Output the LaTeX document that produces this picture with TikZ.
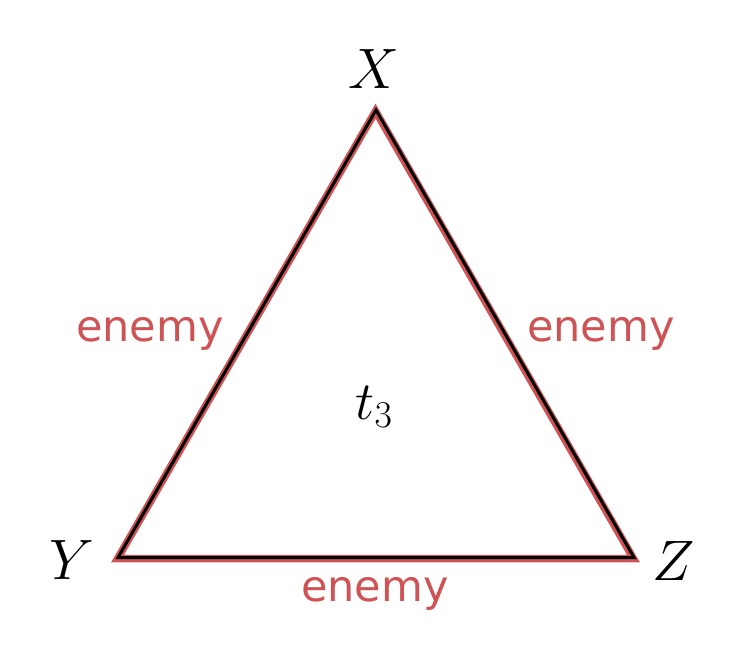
\RequirePackage{fix-cm}
\documentclass[tikz,border=0pt]{standalone}
\usepackage{fontspec}
\newfontfamily\labelfont{DejaVu Sans}
\definecolor{enemyred}{RGB}{207,83,84}
\begin{document}
\begin{tikzpicture}[x=1pt,y=-1pt,
  vlabel/.style={anchor=base,inner sep=0pt,font=\fontsize{57}{60}\selectfont},
  rel/.style={anchor=base,inner sep=0pt,text=enemyred,font=\labelfont\fontsize{43}{48}\selectfont},
  redline/.style={draw=enemyred,line width=7.5pt,line join=miter},
  blackline/.style={draw=black,line width=3pt,line join=miter}]
\useasboundingbox (0,0) rectangle (749,666);
\coordinate (x) at (376,110);
\coordinate (y) at (118,557.5);
\coordinate (z) at (634,557.5);
\begin{scope}[transform canvas={shift={(-0.5pt,-1.2pt)}}]
\draw[redline] (x) -- (y) -- (z) -- cycle;
\end{scope}
\draw[blackline] (x) -- (y) -- (z) -- cycle;
\node[vlabel] (lx) at (374,89) {$X$};
\node[vlabel] (ly) at (72,579) {$Y$};
\node[vlabel] (lz) at (674,580) {$Z$};
\node[anchor=base,inner sep=0pt,font=\fontsize{54}{58}\selectfont] (t) at (374,419) {$t_3$};
\node[rel] (e1) at (150,341) {enemy};
\node[rel] (e2) at (601,341) {enemy};
\node[rel] (e3) at (375,601) {enemy};
\end{tikzpicture}
\end{document}
